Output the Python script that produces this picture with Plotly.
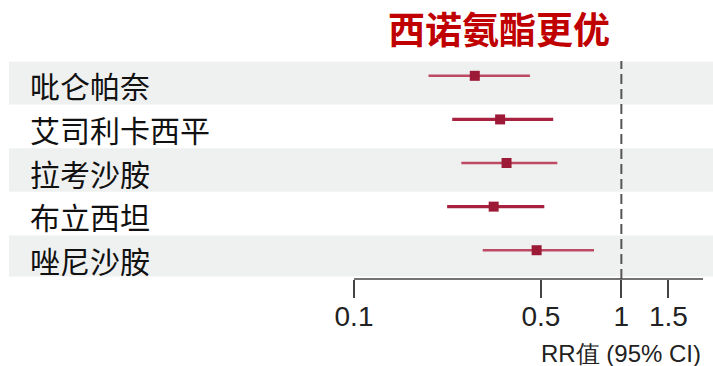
import plotly.graph_objects as go
import math

# ---- data ----
drugs = ["吡仑帕奈", "艾司利卡西平", "拉考沙胺", "布立西坦", "唑尼沙胺"]
rr = [0.283, 0.352, 0.372, 0.333, 0.482]
ci_low = [0.190, 0.233, 0.252, 0.223, 0.303]
ci_high = [0.455, 0.556, 0.576, 0.515, 0.790]
tick_vals = [0.1, 0.5, 1, 1.5]
tick_text = ["0.1", "0.5", "1", "1.5"]
title_text = "西诺氨酯更优"
axis_title = "RR值 (95% CI)"

# ---- styles ----
line_colors = ["#BC4A62", "#A8223F", "#BC4A62", "#A8223F", "#BC4A62"]
line_widths = [2.5, 3.2, 2.5, 3.2, 2.5]
marker_color = "#9C1A36"
band_color = "#EFF0F0"
cjk = "Noto Sans CJK SC"

n = len(drugs)
rows = [n - i for i in range(n)]  # top row highest
mark_off = 0.16

fig = go.Figure()

W, H = 713, 366
ml, mr, mt, mb = 354, 10, 61, 87
pw = W - ml - mr
ph = H - mt - mb

shapes = []
for i, r in enumerate(rows):
    if i % 2 == 0:
        y0 = max(r - 0.5, 0.56)
        y1 = min(r + 0.5, n + 0.48)
        shapes.append(dict(type="rect", xref="paper", yref="y",
                           x0=(9 - ml) / pw, x1=(W - ml) / pw,
                           y0=y0, y1=y1,
                           fillcolor=band_color, line=dict(width=0, color="rgba(0,0,0,0)"),
                           layer="below"))
shapes.append(dict(type="line", xref="x", yref="paper", x0=1, x1=1, y0=0, y1=1,
                   line=dict(color="#555555", width=2, dash="10px,5px")))
shapes.append(dict(type="line", xref="paper", yref="paper", x0=0, x1=1, y0=0, y1=0,
                   line=dict(color="#444444", width=1.5)))

for i, r in enumerate(rows):
    fig.add_trace(go.Scatter(x=[ci_low[i], ci_high[i]], y=[r + mark_off] * 2,
                             mode="lines", line=dict(color=line_colors[i], width=line_widths[i]),
                             hoverinfo="skip", showlegend=False))
fig.add_trace(go.Scatter(x=rr, y=[r + mark_off for r in rows], mode="markers",
                         marker=dict(symbol="square", size=10, color=marker_color),
                         hoverinfo="skip", showlegend=False))

annotations = []
for i, r in enumerate(rows):
    annotations.append(dict(text=drugs[i], xref="paper", yref="y",
                            x=(28 - ml) / pw, y=r - 0.06, xanchor="left", yanchor="middle",
                            showarrow=False, font=dict(family=cjk, size=30, color="#111111")))
annotations.append(dict(text="<b>" + title_text + "</b>", xref="paper", yref="paper",
                        x=(499 - ml) / pw, y=1 + (mt - 28) / ph,
                        xanchor="center", yanchor="middle", showarrow=False,
                        font=dict(family=cjk, size=37, color="#C00000")))
annotations.append(dict(text=axis_title, xref="paper", yref="paper",
                        x=1, y=-(353 - (H - mb)) / ph,
                        xanchor="right", yanchor="middle", showarrow=False,
                        font=dict(family="Liberation Sans, Arial", size=24, color="#222222")))

fig.update_layout(
    width=W, height=H,
    margin=dict(l=ml, r=mr, t=mt, b=mb, pad=0),
    paper_bgcolor="white", plot_bgcolor="white",
    shapes=shapes, annotations=annotations,
    xaxis=dict(type="log", range=[-1, math.log10(2.02)],
               tickvals=tick_vals, ticktext=tick_text,
               showline=False,
               ticks="outside", ticklen=18, tickwidth=1.5, tickcolor="#444444",
               ticklabelstandoff=-6,
               showgrid=False, zeroline=False,
               tickfont=dict(family="Liberation Sans, Arial", size=28, color="#222222")),
    yaxis=dict(range=[0.5, n + 0.5], showgrid=False, zeroline=False,
               showticklabels=False, showline=False),
)

fig.write_html("out.html")
